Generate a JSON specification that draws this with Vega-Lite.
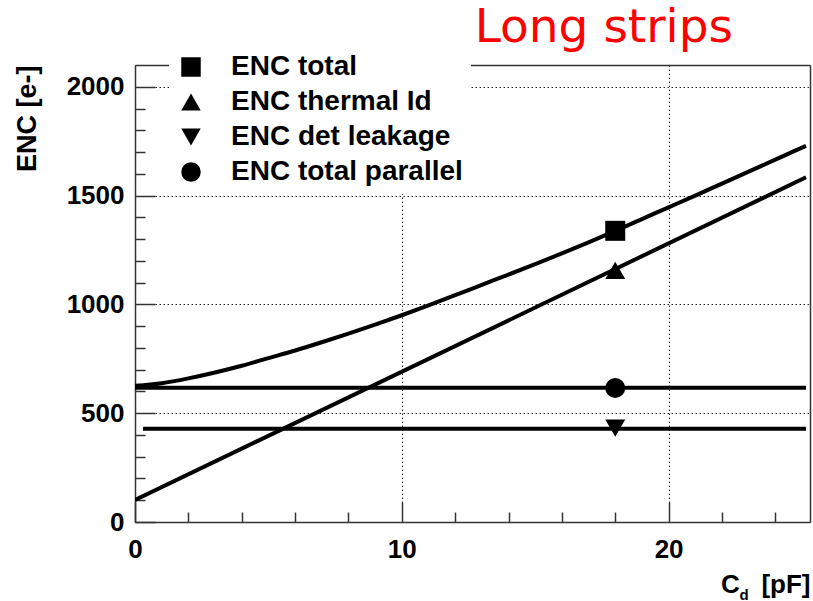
{
  "$schema": "https://vega.github.io/schema/vega-lite/v6.json",
  "width": 675,
  "height": 457,
  "autosize": "none",
  "padding": {"left": 135, "top": 65, "right": 3, "bottom": 79},
  "background": "white",
  "title": {"text": "Long strips", "color": "red", "font": "DejaVu Sans", "fontSize": 47, "fontWeight": "normal", "anchor": "end", "frame": "group", "dx": -77, "dy": 44, "offset": 0, "baseline": "alphabetic"},
  "datasets": {
    "total": [
      {"cd": 0, "enc": 626}, {"cd": 1, "enc": 638}, {"cd": 2, "enc": 660}, {"cd": 3, "enc": 687},
      {"cd": 4, "enc": 718}, {"cd": 5, "enc": 753}, {"cd": 6, "enc": 788}, {"cd": 7, "enc": 826},
      {"cd": 8, "enc": 866}, {"cd": 9, "enc": 907}, {"cd": 10, "enc": 950}, {"cd": 11, "enc": 995},
      {"cd": 12, "enc": 1042}, {"cd": 13, "enc": 1090}, {"cd": 14, "enc": 1137}, {"cd": 15, "enc": 1185},
      {"cd": 16, "enc": 1234}, {"cd": 17, "enc": 1285}, {"cd": 18, "enc": 1338}, {"cd": 19, "enc": 1392},
      {"cd": 20, "enc": 1446}, {"cd": 21, "enc": 1500}, {"cd": 22, "enc": 1555}, {"cd": 23, "enc": 1610},
      {"cd": 24, "enc": 1665}, {"cd": 25, "enc": 1720}, {"cd": 25.15, "enc": 1728}
    ],
    "thermal": [{"cd": 0, "enc": 101}, {"cd": 25.15, "enc": 1584}],
    "flat": [
      {"series": "parallel", "cd": 0, "enc": 617}, {"series": "parallel", "cd": 25.15, "enc": 617},
      {"series": "leakage", "cd": 0.3, "enc": 429}, {"series": "leakage", "cd": 25.15, "enc": 429}
    ],
    "markers": [
      {"series": "ENC total", "cd": 18, "enc": 1338},
      {"series": "ENC thermal Id", "cd": 18, "enc": 1156},
      {"series": "ENC det leakage", "cd": 18, "enc": 431},
      {"series": "ENC total parallel", "cd": 18, "enc": 616}
    ]
  },
  "config": {
    "view": {"stroke": null},
    "axis": {
      "labelFont": "Liberation Sans", "labelFontWeight": "bold", "labelColor": "black",
      "titleFont": "Liberation Sans", "titleFontWeight": "bold", "titleColor": "black",
      "domainColor": "#333", "tickColor": "#333", "domainWidth": 1.5, "tickWidth": 1.5
    }
  },
  "layer": [
    {
      "data": {"name": "thermal"},
      "mark": {"type": "line", "color": "black", "strokeWidth": 4, "clip": true},
      "encoding": {
        "x": {"field": "cd", "type": "quantitative",
          "scale": {"domain": [0, 25.3], "nice": false, "zero": false},
          "axis": {"orient": "bottom", "values": [0, 10, 20], "tickSize": -20, "grid": true,
            "gridDash": [1.5, 2.5], "gridColor": "#222", "gridWidth": 1, "format": "d",
            "labelFontSize": 26, "labelPadding": 34, "labelFlush": false,
            "title": "C\u00a0\u00a0\u00a0[pF]", "titleFontSize": 26, "titleX": 675, "titleY": 70,
            "titleAlign": "right", "titleBaseline": "alphabetic", "titleAnchor": null}},
        "y": {"field": "enc", "type": "quantitative",
          "scale": {"domain": [0, 2100], "nice": false, "zero": false},
          "axis": {"orient": "left", "values": [0, 500, 1000, 1500, 2000], "tickSize": -20, "grid": true,
            "gridDash": [1.5, 2.5], "gridColor": "#222", "gridWidth": 1, "format": "d",
            "labelFontSize": 26, "labelPadding": 31,
            "title": "ENC [e-]", "titleFontSize": 27, "titleX": -100, "titleY": 0,
            "titleAngle": -90, "titleAlign": "right", "titleBaseline": "alphabetic", "titleAnchor": null}}
      }
    },
    {
      "data": {"name": "flat"},
      "mark": {"type": "line", "color": "black", "strokeWidth": 4, "clip": true},
      "encoding": {
        "detail": {"field": "series"},
        "x": {"field": "cd", "type": "quantitative",
          "scale": {"domain": [0, 25.3], "nice": false, "zero": false},
          "axis": {"orient": "bottom", "values": [2, 4, 6, 8, 12, 14, 16, 18, 22, 24], "tickSize": -10,
            "grid": false, "labels": false, "domain": false,
            "title": "d", "titleFontSize": 15, "titleX": 604, "titleY": 77,
            "titleAlign": "left", "titleBaseline": "alphabetic", "titleAnchor": null}},
        "y": {"field": "enc", "type": "quantitative",
          "scale": {"domain": [0, 2100], "nice": false, "zero": false},
          "axis": {"orient": "left", "values": [100, 200, 300, 400, 600, 700, 800, 900, 1100, 1200, 1300, 1400, 1600, 1700, 1800, 1900],
            "tickSize": -10, "grid": false, "labels": false, "domain": false, "title": null}}
      }
    },
    {
      "data": {"name": "total"},
      "mark": {"type": "line", "color": "black", "strokeWidth": 4, "clip": true, "interpolate": "monotone"},
      "encoding": {
        "x": {"field": "cd", "type": "quantitative",
          "scale": {"domain": [0, 25.3], "nice": false, "zero": false},
          "axis": {"orient": "top", "ticks": false, "labels": false, "grid": false, "title": null, "domainWidth": 1.5}},
        "y": {"field": "enc", "type": "quantitative",
          "scale": {"domain": [0, 2100], "nice": false, "zero": false},
          "axis": {"orient": "right", "ticks": false, "labels": false, "grid": false, "title": null, "domainWidth": 1.5}}
      }
    },
    {
      "data": {"name": "markers"},
      "mark": {"type": "point", "filled": true, "color": "black", "size": 400, "opacity": 1},
      "encoding": {
        "x": {"field": "cd", "type": "quantitative", "axis": null},
        "y": {"field": "enc", "type": "quantitative", "axis": null},
        "shape": {"field": "series", "type": "nominal",
          "scale": {"domain": ["ENC total", "ENC thermal Id", "ENC det leakage", "ENC total parallel"],
            "range": ["square", "triangle-up", "triangle-down", "circle"]},
          "legend": {"orient": "none", "legendX": 34, "legendY": -20, "title": null,
            "fillColor": "white", "strokeColor": null, "padding": 8,
            "labelFont": "Liberation Sans", "labelFontWeight": "bold", "labelFontSize": 28, "labelColor": "black",
            "labelLimit": 400, "labelOffset": 26,
            "symbolFillColor": "black", "symbolStrokeColor": "black", "symbolStrokeWidth": 0,
            "symbolSize": 380, "symbolOpacity": 1, "rowPadding": 7}}
      }
    }
  ],
  "resolve": {"axis": {"x": "independent", "y": "independent"}}
}
